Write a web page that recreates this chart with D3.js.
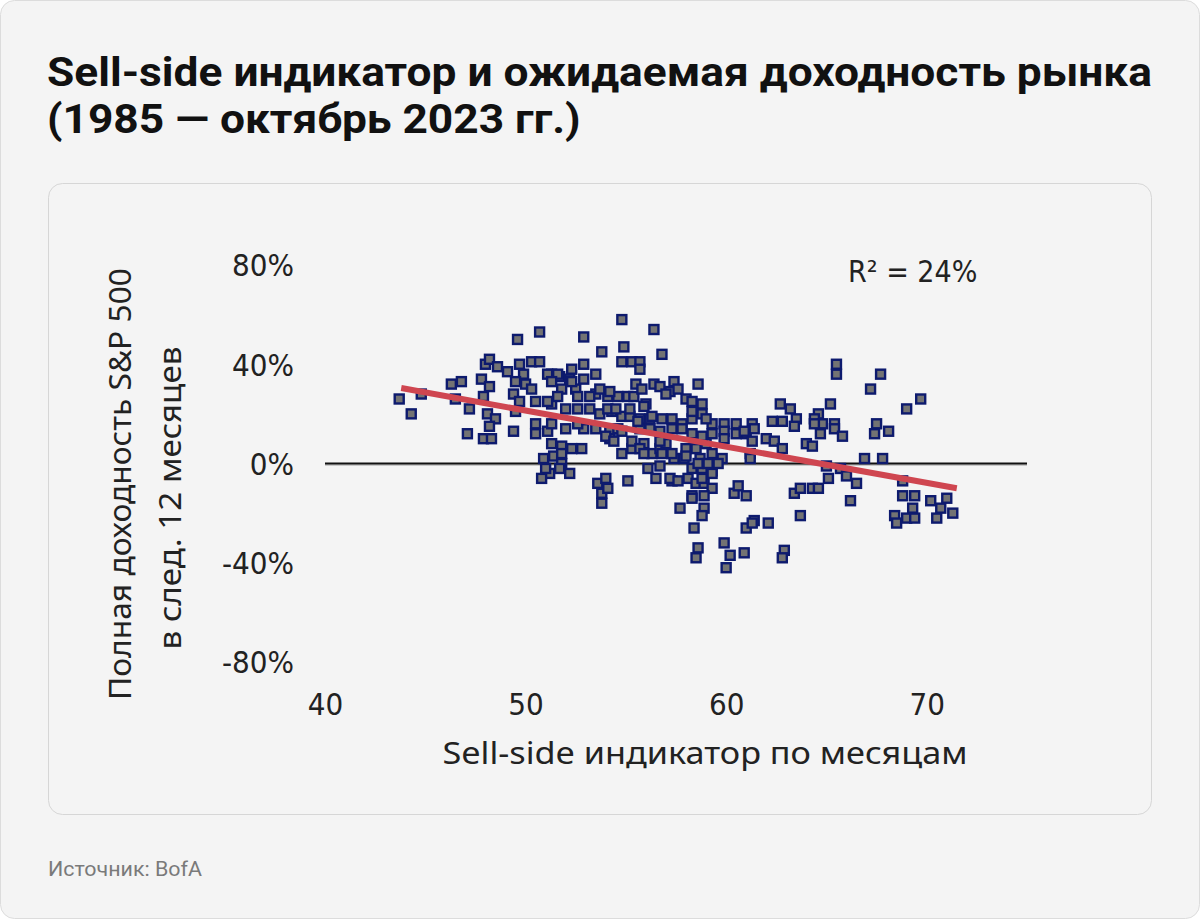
<!DOCTYPE html>
<html><head><meta charset="utf-8">
<script src="https://cdn.jsdelivr.net/npm/d3@7/dist/d3.min.js"></script>
<style>
html,body{margin:0;padding:0;background:#fff;}
svg{display:block;}
</style></head>
<body>
<svg id="chart" width="1200" height="919"></svg>
<script>
// ---- data ----
const titleLines = ["Sell-side индикатор и ожидаемая доходность рынка", "(1985 — октябрь 2023 гг.)"];
const yTitleLines = ["Полная доходность S&P 500", "в след. 12 месяцев"];
const xTitle = "Sell-side индикатор по месяцам";
const sourceText = "Источник: BofA";
const r2Label = "R² = 24%";
const xTicks = [40, 50, 60, 70];
const yTicks = [80, 40, 0, -40, -80];
const yTickLabels = ["80%", "40%", "0%", "-40%", "-80%"];
// monthly sell-side indicator (x) and next-12m S&P 500 total return, % (y)
const indicator = [
43.7,44.3,44.8,46.3,46.8,46.5,47.2,47.1,47.9,48.3,47.8,48.0,48.2,48.6,48.2,47.9,48.1,48.5,48.2,49.4,
49.6,50.7,49.1,49.7,50.3,50.7,49.9,49.5,50.0,50.3,49.4,49.7,49.5,50.5,50.5,51.1,51.3,51.7,52.3,51.8,
51.3,52.0,51.3,51.8,50.9,51.4,51.8,51.2,52.2,50.8,
54.8,56.4,52.9,54.9,53.8,56.8,54.8,55.3,55.7,55.7,52.9,52.2,52.9,53.5,52.5,53.5,54.1,54.6,55.1,55.4,
55.5,55.8,56.4,56.7,57.2,57.4,57.6,58.6,58.0,58.3,58.8,52.6,53.2,53.7,54.3,54.8,55.2,55.7,56.0,52.9,
53.5,54.2,54.6,56.2,56.8,57.3,57.8,58.3,58.8,59.3,59.9,60.5,61.3,52.8,54.2,54.8,55.3,55.9,56.3,56.7,
57.0,58.0,58.5,59.0,59.3,59.8,61.2,56.1,56.7,57.4,57.9,58.3,58.8,59.3,56.5,57.3,58.1,58.5,58.9,59.3,
53.6,54.0,53.8,54.1,53.8,55.1,58.3,58.9,60.4,60.6,61.0,57.0,58.3,56.3,59.0,55.7,56.2,56.7,57.3,57.8,
58.3,58.8,59.3,59.9,59.9,60.5,61.0,61.4,56.7,56.8,57.3,58.0,58.7,61.2,58.6,59.1,59.6,57.2,57.6,58.8,
59.3,58.3,58.9,58.8,57.7,58.4,61.4,61.0,59.9,58.6,58.5,60.2,60.9,60.0,
65.5,65.5,67.7,67.2,69.7,69.0,62.7,63.2,63.5,62.3,62.8,63.4,64.6,65.2,64.4,64.8,64.4,64.7,65.4,65.4,
65.8,64.0,64.3,67.5,67.4,68.1,61.3,62.0,62.4,62.8,60.9,66.9,67.8,65.0,65.7,65.1,66.0,66.5,63.4,63.7,
64.3,64.6,66.2,63.7,61.3,62.1,62.9,62.8,68.8,68.8,69.4,69.3,70.2,70.7,71.0,68.4,68.5,69.0,69.4,70.5,
71.3,
51.1,51.6,51.3,52.3,53.7,54.2,51.6,52.6,53.2,51.1,50.5,52.0,54.1,54.5,55.2,55.9,51.3,52.6,54.8,55.6,
52.3,54.0,54.4,55.3,55.7,55.9,51.8,51.7,51.0
];
const fwdReturn = [
26,20,28,32,33,26,22,12,10,10,34,40,42,39,31,27,20,18,15,13,
50,53,37,40,41,41,36,33,32,30,28,25,21,16,12,13,36,35,38,30,
24,14,8,7,2,3,4,-4,-4,-6,
58,54,51,47,45,44,41,41,41,38,40,34,34,36,30,28,27,27,27,27,
32,30,32,31,29,33,30,32,26,25,24,22,22,20,21,19,19,18,24,14,
14,13,14,18,18,18,16,18,20,16,16,16,16,6,10,4,6,8,4,6,
8,6,6,8,4,2,4,-2,-1,2,2,-2,-2,-3,-6,-7,-6,-8,-8,-10,
-8,-6,-12,-10,-16,-7,-13,-13,-12,-9,-13,28,21,19,18,14,14,13,14,14,
12,11,12,13,10,12,12,14,9,4,4,3,2,2,0,0,0,-6,-7,-6,
-4,-14,-18,-21,-18,-26,-23,-26,-32,-34,-38,-37,-36,-42,
40,36,36,30,26,22,24,22,18,17,17,15,20,24,18,16,16,12,16,14,
11,8,7,16,12,13,9,10,9,6,13,2,2,-1,-2,-6,-5,-8,-12,-10,
-10,-10,-15,-21,-24,-24,-35,-38,-7,-13,-13,-18,-15,-18,-14,-21,-24,-22,-22,-22,
-20,
36,36,33,33,30,29,27,27,27,25,25,22,22,22,22,23,16,16,13,17,
6,11,9,9,6,4,0,-2,-2
];
// fitted trend line endpoints
const trendX = [43.8, 71.5];
const trendY = [30.4, -10.0];

// ---- drawing ----
const svg = d3.select("#chart");
svg.append("rect").attr("x",0.5).attr("y",0.5).attr("width",1199).attr("height",918)
  .attr("rx",14).attr("fill","#f4f4f4").attr("stroke","#dcdcdc");

const titleG = svg.append("g");
titleLines.forEach((t,i)=>{
  titleG.append("text").attr("x",47).attr("y",86+i*47)
    .attr("font-family","Roboto, 'Noto Sans', sans-serif").attr("font-weight",700)
    .attr("font-size",40).attr("fill","#111").text(t);
});
// fit first line to the reference width, scale second line by same factor
{
  const t0 = titleG.select("text").node();
  const w0 = t0.getComputedTextLength();
  const k = 1105 / w0;
  titleG.selectAll("text").each(function(){
    const w = this.getComputedTextLength();
    d3.select(this).attr("textLength", w*k).attr("lengthAdjust","spacingAndGlyphs");
  });
}

svg.append("rect").attr("x",48.5).attr("y",183.5).attr("width",1103).attr("height",631)
  .attr("rx",14).attr("fill","#f4f4f4").attr("stroke","#d6d6d6");

const x = d3.scaleLinear().domain([40,75]).range([325,1027]);
const y = d3.scaleLinear().domain([-80,80]).range([662,265]);

const tickFont = "'Liberation Sans Narrow','DejaVu Sans Condensed','Liberation Sans',sans-serif";

// y axis labels
const yAxis = d3.axisLeft(y).tickValues(yTicks).tickSize(0).tickPadding(0)
  .tickFormat((d,i)=>yTickLabels[i]);
const yg = svg.append("g").attr("transform","translate(294,0)").call(yAxis);
yg.select(".domain").remove();
yg.selectAll("text").attr("font-family",tickFont).attr("font-size",31).attr("fill","#222")
  .attr("dy","0.35em");

// x axis labels
const xAxis = d3.axisBottom(x).tickValues(xTicks).tickSize(0).tickPadding(0);
const xg = svg.append("g").attr("transform","translate(0,693)").call(xAxis);
xg.select(".domain").remove();
xg.selectAll("text").attr("font-family",tickFont).attr("font-size",31).attr("fill","#222")
  .attr("dy","0.71em");

// zero line
svg.append("line").attr("x1",x(40)).attr("x2",x(75)).attr("y1",y(0)+1).attr("y2",y(0)+1)
  .attr("stroke","#c8c8c8").attr("stroke-width",3);
svg.append("line").attr("x1",x(40)).attr("x2",x(75)).attr("y1",y(0)).attr("y2",y(0))
  .attr("stroke","#111").attr("stroke-width",2);

// points
const pts = indicator.map((v,i)=>({x:v,y:fwdReturn[i]}));
const s = 9;
svg.append("g").selectAll("rect").data(pts).join("rect")
  .attr("x",d=>x(d.x)-s/2).attr("y",d=>y(d.y)-s/2).attr("width",s).attr("height",s)
  .attr("fill","#737373").attr("stroke","#0d1a6e").attr("stroke-width",2.4);

// trend line
svg.append("line").attr("x1",x(trendX[0])).attr("y1",y(trendY[0]))
  .attr("x2",x(trendX[1])).attr("y2",y(trendY[1]))
  .attr("stroke","#cf4650").attr("stroke-width",6);

// R2 label
svg.append("text").attr("x",848).attr("y",282).attr("font-family",tickFont)
  .attr("font-size",30).attr("fill","#222").text(r2Label);

// y title
const yTitleTargets = [432, 303];
yTitleLines.forEach((t,i)=>{
  svg.append("text").attr("transform",`translate(${131+i*50},${484+i*14}) rotate(-90)`)
    .attr("text-anchor","middle").attr("font-family","'Noto Sans','Open Sans',sans-serif")
    .attr("font-size",31).attr("fill","#222")
    .attr("textLength",yTitleTargets[i]).attr("lengthAdjust","spacingAndGlyphs").text(t);
});
// x title
svg.append("text").attr("x",705).attr("y",764).attr("text-anchor","middle")
  .attr("font-family","'Noto Sans','Open Sans',sans-serif").attr("font-size",31).attr("fill","#222")
  .attr("textLength",525).attr("lengthAdjust","spacingAndGlyphs")
  .text(xTitle);

// source
svg.append("text").attr("x",48).attr("y",876).attr("font-family","Roboto, 'Noto Sans', sans-serif")
  .attr("font-size",20).attr("fill","#7a7a7a")
  .attr("textLength",154).attr("lengthAdjust","spacingAndGlyphs").text(sourceText);
</script>
</body></html>
